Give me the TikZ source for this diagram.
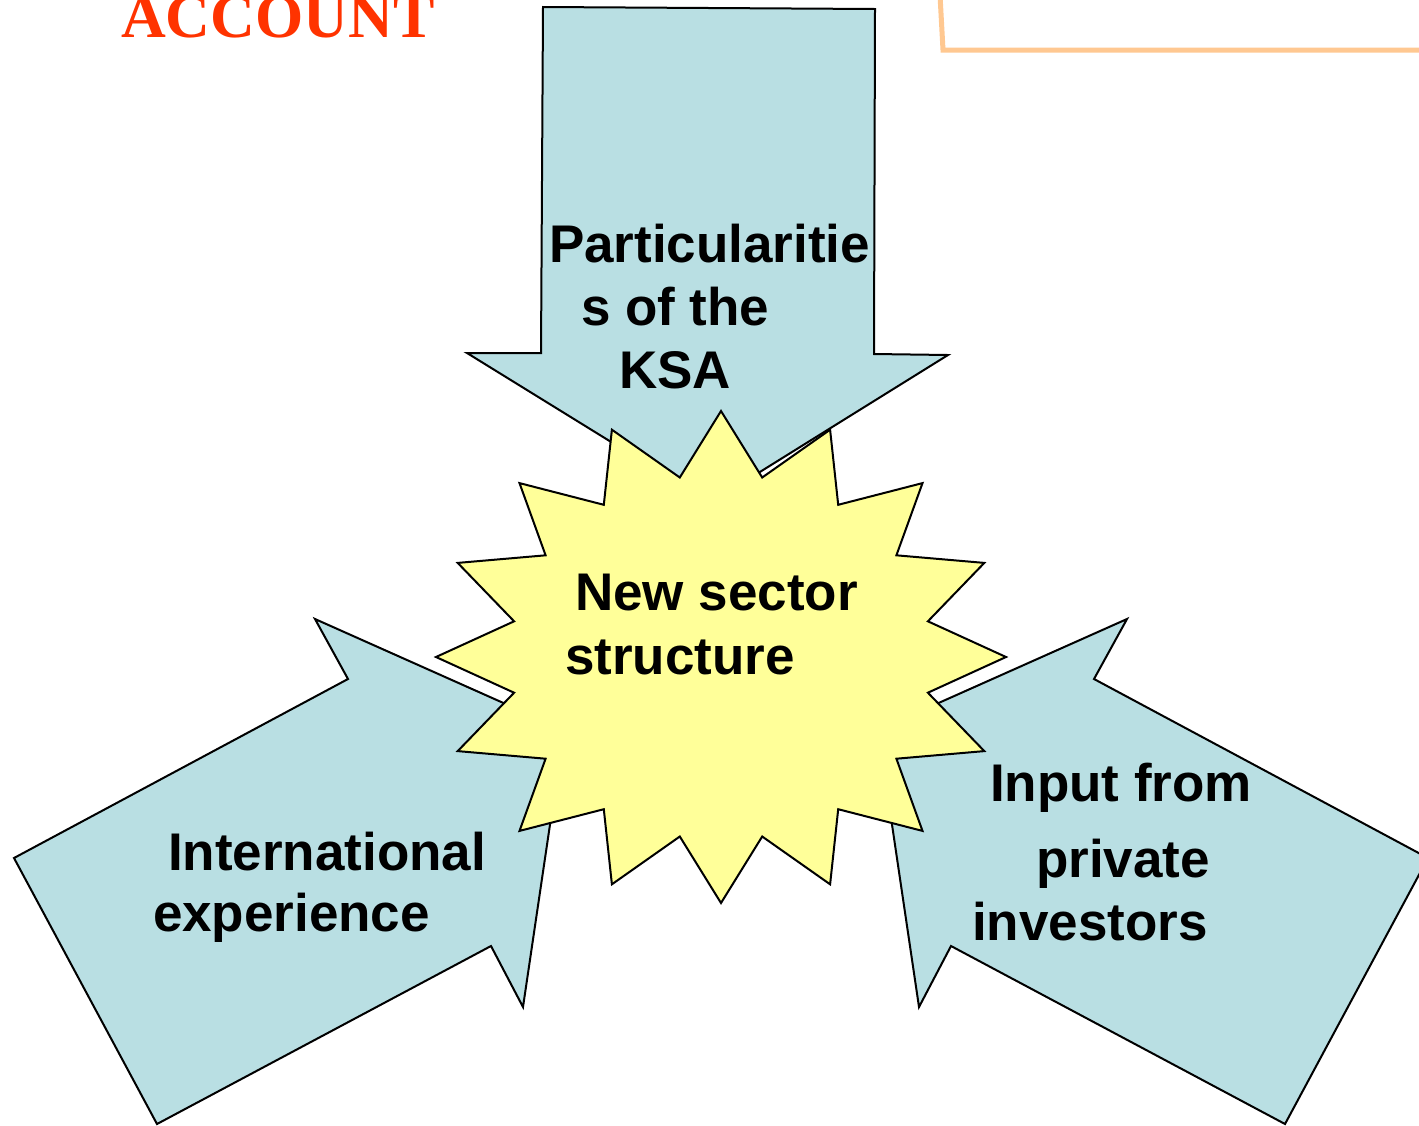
\documentclass[tikz,border=0pt]{standalone}
\usepackage{fontspec}
\setmainfont{Liberation Sans}
\newfontfamily\titleserif{Liberation Serif}
\definecolor{arrowfill}{HTML}{B9DFE3}
\definecolor{starfill}{HTML}{FFFF99}
\definecolor{titlered}{HTML}{FF3300}
\definecolor{boxorange}{HTML}{FFC891}
\tikzset{
  bigarrow/.style={draw=black, line width=2pt, fill=arrowfill, line join=miter},
  burst/.style={draw=black, line width=2pt, fill=starfill, line join=miter},
  lbl/.style={anchor=base west, inner sep=0pt, outer sep=0pt, text=black,
    font=\fontsize{53}{64}\selectfont\bfseries},
}
\begin{document}
\begin{tikzpicture}[x=1pt, y=-1pt]
\useasboundingbox (0,0) rectangle (1419,1125);
\clip (0,0) rectangle (1419,1125);
\fill[white] (0,0) rectangle (1419,1125);

% title fragment and partial box at the top
\node[anchor=base west, inner sep=0pt, text=titlered,
  font=\fontsize{62}{70}\selectfont\titleserif\bfseries] (title) at (121,37) {ACCOUNT};
\draw[boxorange, line width=5pt, line join=miter] (940,-5) -- (943,50) -- (1430,50);

% three arrows
\draw[bigarrow] (543,7) -- (875,9) -- (874,354) -- (948,355) -- (710,503)
  -- (467,353) -- (541,353) -- cycle;
\draw[bigarrow] (14,858) -- (348,679) -- (315,619) -- (564,730) -- (523,1007)
  -- (491,946) -- (157,1124) -- cycle;
\draw[bigarrow] (1428,858) -- (1094,679) -- (1127,619) -- (878,730) -- (919,1007)
  -- (951,946) -- (1285,1124) -- cycle;

% central burst
\draw[burst] (721,411) -- (762.2,477.5) -- (830.1,429.7) -- (838.2,504.8)
  -- (922.5,483.1) -- (896.4,555.3) -- (984.3,562.9) -- (927.9,621.3)
  -- (1006,657) -- (927.9,692.7) -- (984.3,751.1) -- (896.4,758.7)
  -- (922.5,830.9) -- (838.2,809.2) -- (830.1,884.3) -- (762.2,836.5)
  -- (721,903) -- (679.8,836.5) -- (611.9,884.3) -- (603.8,809.2)
  -- (519.5,830.9) -- (545.6,758.7) -- (457.7,751.1) -- (514.1,692.7)
  -- (436,657) -- (514.1,621.3) -- (457.7,562.9) -- (545.6,555.3)
  -- (519.5,483.1) -- (603.8,504.8) -- (611.9,429.7) -- (679.8,477.5) -- cycle;

% labels
\node[lbl] (ksa1) at (549,262) {Particularitie};
\node[lbl] (ksa2) at (581,325) {s of the};
\node[lbl] (ksa3) at (619,388) {KSA};
\node[lbl] (new1) at (575,610) {New sector};
\node[lbl] (new2) at (565,674) {structure};
\node[lbl] (int1) at (168,870) {International};
\node[lbl] (int2) at (153,931) {experience};
\node[lbl] (inp1) at (990,801) {Input from};
\node[lbl] (inp2) at (1036,877) {private};
\node[lbl] (inp3) at (972,940) {investors};
\end{tikzpicture}
\end{document}
